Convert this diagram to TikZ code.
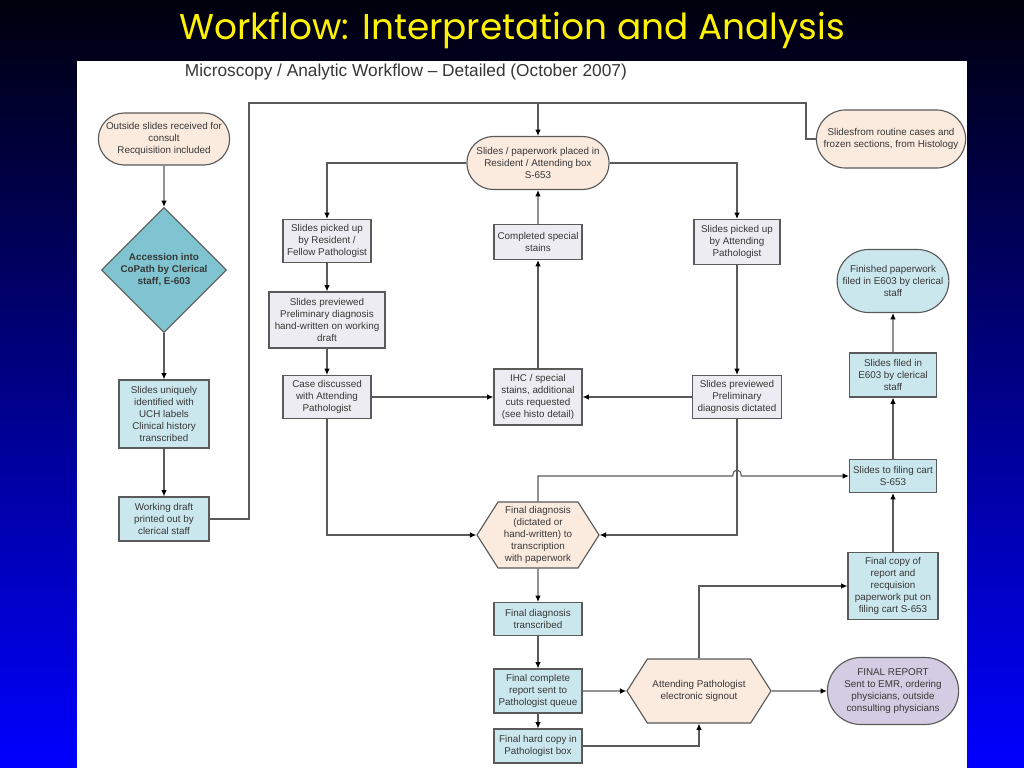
\documentclass[tikz,border=0pt]{standalone}
\usepackage{fontspec}
\setmainfont{Liberation Sans}
\newfontfamily\titlefont{Poppins}
\usetikzlibrary{shapes.geometric,shapes.misc,shapes.symbols,arrows.meta}
\definecolor{peach}{RGB}{251,234,222}
\definecolor{paleteal}{RGB}{203,231,238}
\definecolor{deepteal}{RGB}{127,196,208}
\definecolor{palegrey}{RGB}{236,236,242}
\definecolor{lilac}{RGB}{211,204,226}
\definecolor{inkgrey}{RGB}{55,55,55}
\definecolor{edgegrey}{RGB}{90,90,90}
\tikzset{
  boxtext/.style={font=\fontsize{7}{8.5}\selectfont, text=inkgrey, align=center},
  base/.style={boxtext, draw=edgegrey, line width=0.8pt, inner sep=1pt},
  bluebox/.style={base, rectangle, fill=paleteal},
  greybox/.style={base, rectangle, fill=palegrey},
  pill/.style={base, rounded rectangle, fill=peach},
  hexa/.style={base, signal, signal to=west and east, signal pointer angle=115, fill=peach},
  gem/.style={base, diamond, fill=deepteal, font=\fontsize{7}{8.5}\selectfont\bfseries},
  link/.style={draw=edgegrey, line width=0.8pt}
}
\begin{document}
\begin{tikzpicture}[x=0.025cm,y=-0.025cm,>={Latex[length=4.5pt,width=4pt,color=black]}]
  \useasboundingbox (0,0) rectangle (1024,768);
  \shade[top color={rgb,255:red,0;green,0;blue,12}, middle color={rgb,255:red,0;green,0;blue,190}, bottom color=blue] (0,0) rectangle (1024,768);
  \fill[white] (77,61) rectangle (967,768);
  \node[font=\titlefont\fontsize{25.5}{30}\selectfont, text=yellow] (title) at (512,30) {Workflow: Interpretation and Analysis};
  \node[font=\fontsize{12.3}{14}\selectfont, text=inkgrey, anchor=west] (subtitle) at (180,72) {Microscopy / Analytic Workflow – Detailed (October 2007)};

  % left column
  \node[pill, minimum width=3.35cm, minimum height=1.3cm] (out) at (164,139) {Outside slides received for\\consult\\Recquisition included};
  \node[gem, minimum width=2.9cm, minimum height=3.025cm] (acc) at (164,270) {Accession into\\CoPath by Clerical\\staff, E-603};
  \node[bluebox, minimum width=2.25cm, minimum height=1.7cm] (uniq) at (164,414) {Slides uniquely\\identified with\\UCH labels\\Clinical history\\transcribed};
  \node[bluebox, minimum width=2.25cm, minimum height=1.1cm] (draft) at (164,519) {Working draft\\printed out by\\clerical staff};

  % top row
  \node[pill, minimum width=3.625cm, minimum height=1.325cm] (place) at (538,163) {Slides / paperwork placed in\\Resident / Attending box\\S-653};
  \node[pill, minimum width=3.8cm, minimum height=1.45cm] (histo) at (891,139) {Slidesfrom routine cases and\\frozen sections, from Histology};

  % resident branch
  \node[greybox, minimum width=2.2cm, minimum height=1.075cm] (resid) at (327,241) {Slides picked up\\by Resident /\\Fellow Pathologist};
  \node[greybox, minimum width=2.9cm, minimum height=1.4cm] (prev) at (327,320) {Slides previewed\\Preliminary diagnosis\\hand-written on working\\draft};
  \node[greybox, minimum width=2.2cm, minimum height=1.075cm] (disc) at (327,397) {Case discussed\\with Attending\\Pathologist};

  % stains
  \node[greybox, minimum width=2.2cm, minimum height=0.875cm] (stains) at (538,242) {Completed special\\stains};
  \node[greybox, minimum width=2.2cm, minimum height=1.4cm] (ihc) at (538,397) {IHC / special\\stains, additional\\cuts requested\\(see histo detail)};

  % attending branch
  \node[greybox, minimum width=2.15cm, minimum height=1.125cm] (att) at (737,242) {Slides picked up\\by Attending\\Pathologist};
  \node[greybox, minimum width=2.225cm, minimum height=1.075cm] (attprev) at (737,397) {Slides previewed\\Preliminary\\diagnosis dictated};

  % final steps
  \node[hexa, minimum width=3.05cm, minimum height=1.65cm] (final) at (538,535) {Final diagnosis\\(dictated or\\hand-written) to\\transcription\\with paperwork};
  \node[bluebox, minimum width=2.2cm, minimum height=0.825cm] (trans) at (538,619) {Final diagnosis\\transcribed};
  \node[bluebox, minimum width=2.2cm, minimum height=1.1cm] (queue) at (538,691) {Final complete\\report sent to\\Pathologist queue};
  \node[bluebox, minimum width=2.2cm, minimum height=0.85cm] (hard) at (538,746) {Final hard copy in\\Pathologist box};
  \node[hexa, minimum width=3.6cm, minimum height=1.6cm] (signout) at (699,691) {Attending Pathologist\\electronic signout};
  \node[base, rounded rectangle, fill=lilac, minimum width=3.35cm, minimum height=1.675cm] (report) at (893,691) {FINAL REPORT\\Sent to EMR, ordering\\physicians, outside\\consulting physicians};

  % filing column
  \node[bluebox, minimum width=2.25cm, minimum height=1.675cm] (copy) at (893,586) {Final copy of\\report and\\recquision\\paperwork put on\\filing cart S-653};
  \node[bluebox, minimum width=2.175cm, minimum height=0.825cm] (cart) at (893,476) {Slides to filing cart\\S-653};
  \node[bluebox, minimum width=2.175cm, minimum height=1.1cm] (filed) at (893,375) {Slides filed in\\E603 by clerical\\staff};
  \node[base, rounded rectangle, fill=paleteal, minimum width=2.725cm, minimum height=1.575cm] (finished) at (893,281) {Finished paperwork\\filed in E603 by clerical\\staff};

  \coordinate (topleft) at (249,103);
  \coordinate (topright) at (806,103);
  \coordinate (toptap) at (538,103);
  \coordinate (hop) at (737,476);

  \draw[link,->] (out) -- (acc);
  \draw[link,->] (acc) -- (uniq);
  \draw[link,->] (uniq) -- (draft);
  \draw[link] (draft.east) -| (topleft) -- (topright) |- (histo.west);
  \draw[link,->] (toptap) -- (place.north);
  \draw[link,->] (place.west) -| (resid.north);
  \draw[link,->] (place.east) -| (att.north);
  \draw[link,->] (resid) -- (prev);
  \draw[link,->] (prev) -- (disc);
  \draw[link,->] (disc) -- (ihc);
  \draw[link,->] (attprev) -- (ihc);
  \draw[link,->] (ihc) -- (stains);
  \draw[link,->] (stains) -- (place);
  \draw[link,->] (att) -- (attprev);
  \draw[link,->] (disc.south) |- (final.west);
  \draw[link,->] (attprev.south) |- (final.east);
  \draw[link,->] (final.north) |- ([xshift=-3pt]hop) .. controls +(0,-8) and +(0,-8) .. ([xshift=3pt]hop) -- (cart.west);
  \draw[link,->] (cart) -- (filed);
  \draw[link,->] (filed) -- (finished);
  \draw[link,->] (copy) -- (cart);
  \draw[link,->] (final) -- (trans);
  \draw[link,->] (trans) -- (queue);
  \draw[link,->] (queue) -- (hard);
  \draw[link,->] (queue) -- (signout);
  \draw[link,->] (hard.east) -| (signout.south);
  \draw[link,->] (signout.north) |- (copy.west);
  \draw[link,->] (signout) -- (report);
\end{tikzpicture}
\end{document}
